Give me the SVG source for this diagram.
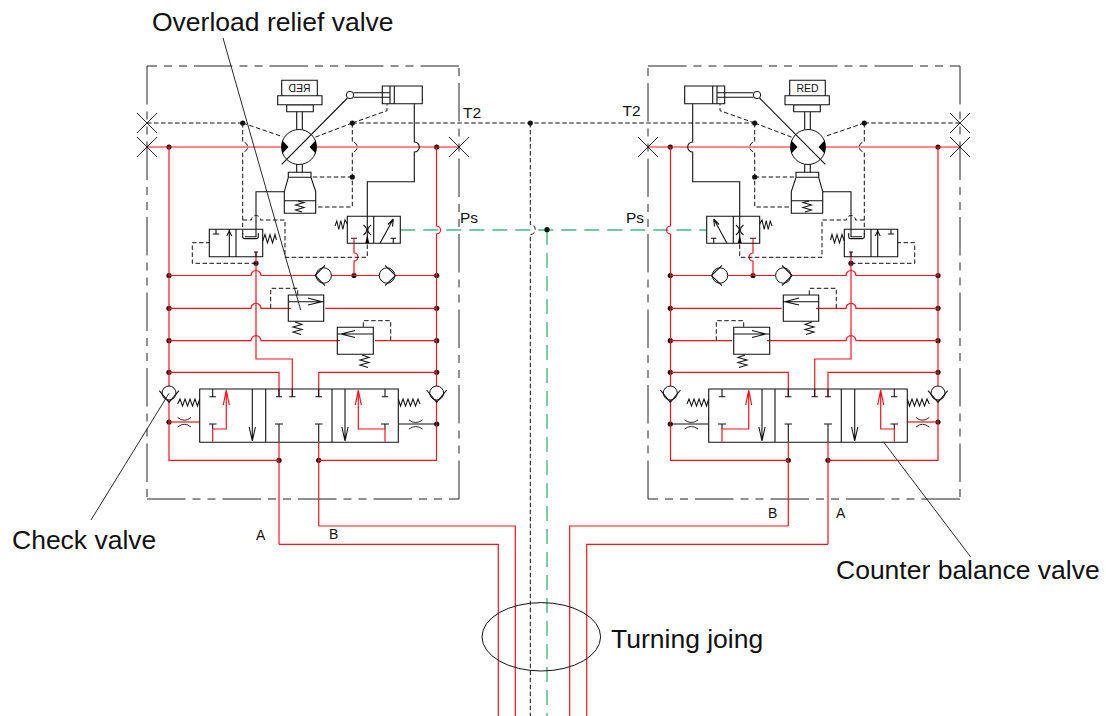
<svg xmlns="http://www.w3.org/2000/svg" width="1106" height="716" viewBox="0 0 1106 716">
<style>
text{font-family:"Liberation Sans",Arial,sans-serif;fill:#111}
.lab{font-size:26.5px}.sm{font-size:15.5px}.xs{font-size:14px}.red{font-size:10.5px}
.k,.r,.g,.d,.f,.t,.s{fill:none;stroke-linejoin:miter}
.k{stroke:#111;stroke-width:1.1}
.s{stroke:#111;stroke-width:1.05}
.t{stroke:#111;stroke-width:.9}
.r{stroke:#f5141e;stroke-width:1.2}
.g{stroke:#45b883;stroke-width:1.4;stroke-dasharray:15 8}
.d{stroke:#111;stroke-width:1;stroke-dasharray:4.5 2.5}
.f{stroke:#222;stroke-width:1;stroke-dasharray:38.5 7 8 7 8 7}
.w{fill:#fff;stroke:#111;stroke-width:1}
.dot{fill:#111}
.tri{fill:#000}
</style>
<defs>
<g id="frame"><path class="f" d="M147 66V499M147 499H459M459 499V66M459 66H147"/>
<path class="t" d="M137 113L157 133M157 113L137 133M137 137L157 157M157 137L137 157M449 137L469 157M469 137L449 157"/></g>
<g id="wires">
<circle class="dot" cx="169" cy="147" r="2.6"/><circle class="dot" cx="436.7" cy="147" r="2.6"/>
<circle class="dot" cx="242.7" cy="123" r="2.6"/><circle class="dot" cx="352.3" cy="123" r="2.6"/><circle class="dot" cx="352.3" cy="177" r="2.6"/>
<circle class="dot" cx="256" cy="263.3" r="2.6"/><circle class="dot" cx="354" cy="275.5" r="2.6"/>
<circle class="dot" cx="169" cy="275.5" r="2.6"/><circle class="dot" cx="436.7" cy="275.5" r="2.6"/>
<circle class="dot" cx="169" cy="308.3" r="2.6"/><circle class="dot" cx="436.7" cy="308.3" r="2.6"/>
<circle class="dot" cx="169" cy="340.7" r="2.6"/><circle class="dot" cx="436.7" cy="340.7" r="2.6"/>
<circle class="dot" cx="169" cy="372.3" r="2.6"/><circle class="dot" cx="436.7" cy="372.3" r="2.6"/>
<circle class="dot" cx="169" cy="422" r="2.6"/><circle class="dot" cx="436.7" cy="424" r="2.6"/>
<circle class="dot" cx="279" cy="460.3" r="2.6"/><circle class="dot" cx="318.7" cy="460.3" r="2.6"/>
<path class="r" d="M147 147H282M316 147H459"/>
<path class="r" d="M169 147V460.3H279M436.5 147V226a4 4 0 0 1 0 8V460.3H318.7"/>
<path class="r" d="M169 275.5H251a5 5 0 0 1 10 0H315M331 275.5H379M396 275.5H436.7"/>
<path class="r" d="M169 308.3H251a5 5 0 0 1 10 0H291M325.3 308.3H436.7"/>
<path class="r" d="M169 340.7H251a5 5 0 0 1 10 0H340M375 340.7H436.7"/>
<path class="r" d="M169 372.3H279V396.7M436.7 372.3H318.7V396.7"/>
<path class="r" d="M256 252V359H292.3V396.7"/>
<path class="r" d="M354 239V253a4 4 0 0 1 0 8V275.5"/>
<path class="r" d="M169 422H199.7"/>
<path class="k" d="M398.3 424H436.7"/>
<path class="d" d="M242.7 123V142a5 5 0 0 1 0 10V236M242.7 220H251.5a4.500 4.500 0 0 1 9 0H285V257.300H367.300V243"/>
<path class="d" d="M352.300 123V142a5 5 0 0 1 0 10V207H315.700M352.300 177H311"/>
<path class="d" d="M242.700 123L282.700 136.700M352.300 123L315 137.300M352.300 123L387 110.700V103.700"/>
<path class="d" d="M256 263.300H192.300V242.700H209.300"/>
<path class="d" d="M270.700 308.300V288.300H297.700V295M390.700 340.700V320.700H363.300V327.300"/>
<path class="k" d="M414.300 103.700V142a5 5 0 0 1 0 10V181.700H367.300V243M284.300 191.700H256V237"/>
</g>
<g id="motor">
<circle class="w" cx="299" cy="147" r="17.500"/>
<path class="tri" d="M282 140L288.500 147L282 154ZM316 140L309.500 147L316 154Z"/>
<path class="k" d="M281.700 164.300L347.500 98"/>
<path class="k" d="M296.700 129.500V111.700M302.300 129.500V111.700M296.700 164.300V172.300M302.300 164.300V172.300"/>
</g>
<g id="gearbox"><path class="k" d="M286.700 105H313.300V111.700H286.700ZM277.700 95.700H322V104.700H277.700ZM281.700 80.300H317.300V95.700H281.700Z"/></g>
<g id="cylinder">
<circle class="w" cx="350" cy="95" r="3.700"/>
<path class="k" d="M353.500 92.700H390M353.500 97.300H390M382.300 86H422.300V103.700H382.300ZM390 86V103.700M394.300 86V103.700"/>
</g>
<g id="brake">
<path class="k" d="M288.300 172.300H311V177.300H288.300ZM288.300 177.300L284.300 191.700V213.300H315.700V191.700L311 177.300M284.300 200.700H315.700"/>
<path class="s" d="M302 212L295.500 210L304 207.500L295.500 205L304 202.500L298 201"/>
</g>
<g id="tilt">
<path class="k" d="M347.300 216.300H400.300V243.300H347.300ZM373.700 216.300V243.300"/>
<path class="k" d="M380 243.300L393.300 219M393.300 219L388 224.500M393.300 219L392.500 226.500M393.300 243.300V238.300M390.500 238.300H396.100M351 238.300H357"/>
<path class="tri" d="M367.300 235L369.300 243.300H365.300Z"/>
<path class="k" d="M363.500 225Q370 230 363.500 235M371 225Q364.600 230 371 235"/>
<path class="s" d="M347.300 224L345 220L342.800 229.500L340.800 220.500L338.800 229.500L336.800 221L335 226"/>
</g>
<g id="pilot">
<path class="k" d="M209.300 229.300H262.700V256.700H209.300ZM229.300 229.300V256.700M236 229.300V256.700"/>
<path class="k" d="M216 229.300V234M212.800 234H219.200M226.800 236L229.300 231L231.800 236"/>
<path class="k" d="M242.700 233V237Q242.700 238.600 245 238.600H256Q258.300 238.600 258.300 237V233M245 236.800H256M254 252H258M256 252V256.700"/>
<path class="s" d="M262.700 241L265 234.500L267.500 243L270 234.500L272.500 243L275 234.500L276.500 240"/>
</g>
<g id="checks">
<circle class="w" cx="323.700" cy="275.500" r="7.700"/><path class="k" d="M325 265.300L315 275.500L325 285.700"/>
<circle class="w" cx="387" cy="275.500" r="7.700"/><path class="k" d="M385 265.300L395.700 275.500L385 285.700"/>
<circle class="w" cx="169" cy="393" r="7"/><path class="k" d="M159.300 390.700L169 402.300L179 390.700"/>
<circle class="w" cx="436.700" cy="393" r="7"/><path class="k" d="M426.500 390L436.700 402.300L446.700 390"/>
</g>
<g id="relief">
<path class="k" d="M288.300 295H323.700V321.300H288.300ZM288.300 301.700H323.700M308 298L322 301.700L308 305"/>
<path class="s" d="M295 322L302 324.500L293 327L302 329.500L293 332L301 334.500"/>
<path class="k" d="M337.300 327.300H373.300V354.300H337.300ZM337.300 334H373.300M341 334L355 330.500M341 334L355 337.500"/>
<path class="s" d="M362 355L369 357.500L360 360L369 362.500L360 365L368 367.500"/>
</g>
<g id="spool">
<path class="k" d="M199.700 389H398.300V442.300H199.700ZM265.700 389V442.300M332 389V442.300"/>
<path class="k" d="M212.700 389V396.700M209.500 396.700H216M252.300 389V441M249.200 427L252.300 441L255.400 427M276 396.700H282M289.200 396.700H295.500M315.500 396.700H322M385 389V396.700M381.700 396.700H388.300"/>
<path class="k" d="M209 424H216.500M212.700 424V429M275 424H283M279 424V441.700M315 424H322.500M318.700 424V441.700M381 424H389M385 424V429M345 389V441M341.900 427L345 441L348.100 427M279 389.300V396.700M292.300 389.300V396.700M318.700 389.300V396.700"/>
<path class="r" d="M212.700 441.700V429H226.300V390M223.300 405L226.300 390L229.300 405M385 441.700V429H358.300V390M355.300 405L358.300 390L361.300 405"/>
<path class="r" d="M279 441.700V544.300M318.700 441.700V526"/>
<path class="s" d="M199.700 399L197.500 406L195 399L192.500 406L190 399L187.500 406L185 399L182.500 406L180 399L177.700 404"/>
<path class="s" d="M398.300 399L400.500 406L403 399L405.500 406L408 399L410.500 406L413 399L415.500 406L418 399L420 404"/>
<path class="t" d="M177.700 417.500Q184.500 423 191 417.500M177.700 427Q184.500 421.500 191 427M409 420Q415.700 425 422.500 420M409 429Q415.700 424 422.500 429"/>
</g>
</defs>

<g id="connectors">
<path class="d" d="M147 123H242.700M352.300 123H754.700M864.300 123H960M530.300 123V224.500a5 5 0 0 1 0 10V716"/>
<path class="g" d="M400.300 230H707M547 230V716"/>
<circle class="dot" cx="530.300" cy="123" r="2.600"/><circle class="dot" cx="547" cy="229.700" r="2.600"/>
<use href="#wires"/>
<use href="#wires" transform="matrix(-1 0 0 1 1107 0)"/>
<path class="r" d="M279 544.300H498.300V716M318.700 526H515.300V716M828 544.300H586.700V716M788.300 526H569.700V716"/>
</g>

<g id="left-block"><use href="#frame"/></g>
<g id="right-block" transform="matrix(-1 0 0 1 1107 0)"><use href="#frame"/></g>

<g id="left-motor"><use href="#motor"/></g>
<g id="right-motor" transform="matrix(-1 0 0 1 1107 0)"><use href="#motor"/></g>
<g id="left-reducer"><use href="#gearbox"/><text class="red" transform="translate(299.500 92) scale(-1 1)" text-anchor="middle">RED</text></g>
<g id="right-reducer"><g transform="matrix(-1 0 0 1 1107 0)"><use href="#gearbox"/></g><text class="red" x="807.500" y="92" text-anchor="middle">RED</text></g>
<g id="left-cylinder"><use href="#cylinder"/></g>
<g id="right-cylinder" transform="matrix(-1 0 0 1 1107 0)"><use href="#cylinder"/></g>
<g id="left-brake"><use href="#brake"/></g>
<g id="right-brake" transform="matrix(-1 0 0 1 1107 0)"><use href="#brake"/></g>
<g id="left-tilt-valve"><use href="#tilt"/></g>
<g id="right-tilt-valve" transform="matrix(-1 0 0 1 1107 0)"><use href="#tilt"/></g>
<g id="left-pilot-valve"><use href="#pilot"/></g>
<g id="right-pilot-valve" transform="matrix(-1 0 0 1 1107 0)"><use href="#pilot"/></g>
<g id="left-check-valves"><use href="#checks"/></g>
<g id="right-check-valves" transform="matrix(-1 0 0 1 1107 0)"><use href="#checks"/></g>
<g id="left-relief-valves"><use href="#relief"/></g>
<g id="right-relief-valves" transform="matrix(-1 0 0 1 1107 0)"><use href="#relief"/></g>
<g id="left-counter-balance"><use href="#spool"/></g>
<g id="right-counter-balance" transform="matrix(-1 0 0 1 1107 0)"><use href="#spool"/></g>

<g id="turning-joint"><ellipse cx="541.300" cy="636.800" rx="59.300" ry="34.200" fill="none" stroke="#111" stroke-width="1"/></g>

<g id="leaders">
<path class="t" d="M223 38L300.700 310M169 393.300L91 520M883.300 441.700L970.700 557"/>
</g>

<g id="labels">
<text class="lab" x="152" y="31">Overload relief valve</text>
<text class="lab" x="12" y="549">Check valve</text>
<text class="lab" x="836" y="579">Counter balance valve</text>
<text class="lab" x="611" y="648">Turning joing</text>
<text class="sm" x="463" y="118">T2</text>
<text class="sm" x="622.500" y="116">T2</text>
<text class="sm" x="460" y="223">Ps</text>
<text class="sm" x="626" y="223">Ps</text>
<text class="xs" x="256" y="540">A</text>
<text class="xs" x="329" y="539">B</text>
<text class="xs" x="768" y="518">B</text>
<text class="xs" x="836" y="518">A</text>
</g>
</svg>
